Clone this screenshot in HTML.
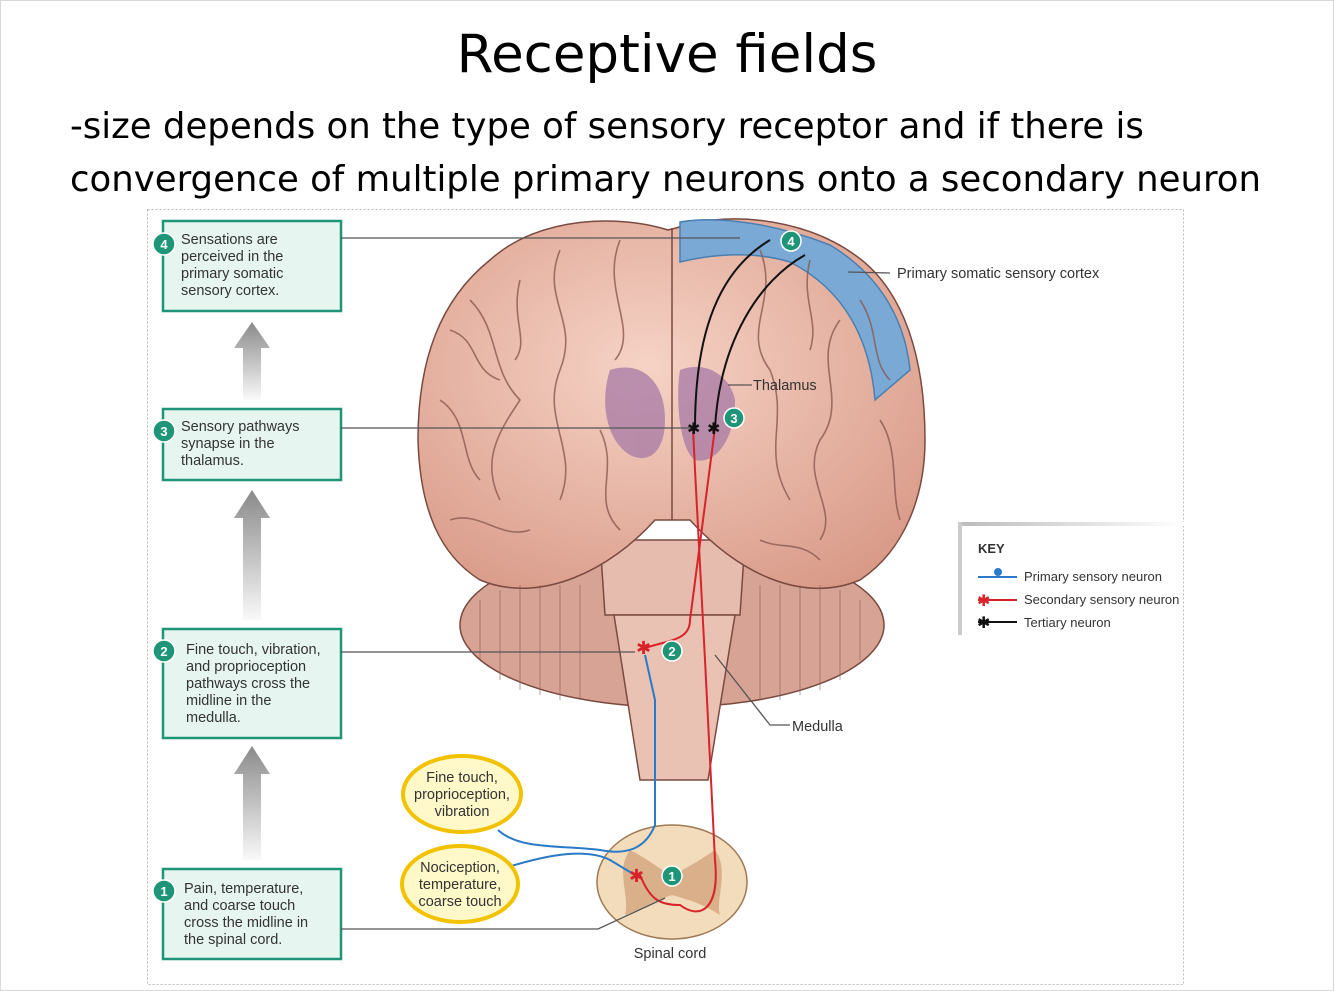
<!DOCTYPE html>
<html><head><meta charset="utf-8"><style>
html,body{margin:0;padding:0;background:#fff;}
body{width:1334px;height:991px;position:relative;overflow:hidden;font-family:"Liberation Sans",sans-serif;}
.t{position:absolute;font-family:"DejaVu Sans","Liberation Sans",sans-serif;color:#000;}
</style></head><body>
<div style="position:absolute;left:0;top:0;width:1332px;height:989px;border:1px solid #d8d8d8;"></div>
<div class="t" style="left:0;width:1334px;text-align:center;top:24px;font-size:53px;">Receptive fields</div>
<div class="t" style="left:70px;top:100px;font-size:35.5px;line-height:53px;white-space:nowrap;">-size depends on the type of sensory receptor and if there is<br>convergence of multiple primary neurons onto a secondary neuron</div>
<svg width="1334" height="991" style="position:absolute;left:0;top:0" xmlns="http://www.w3.org/2000/svg" font-family="Liberation Sans, sans-serif">
<defs>
<linearGradient id="ga" x1="0" y1="0" x2="0" y2="1"><stop offset="0" stop-color="#8a8a8a"/><stop offset="1" stop-color="#8a8a8a" stop-opacity="0.05"/></linearGradient>
<radialGradient id="br" cx="0.45" cy="0.4" r="0.7"><stop offset="0" stop-color="#f6d3c6"/><stop offset="1" stop-color="#d99a88"/></radialGradient>
<linearGradient id="kg" x1="0" y1="0" x2="1" y2="0"><stop offset="0" stop-color="#bbb"/><stop offset="1" stop-color="#fff"/></linearGradient>
</defs>
<rect x="147.5" y="209.5" width="1036" height="775" fill="none" stroke="#bbb" stroke-dasharray="2,2"/>
<g fill="#e7f5f1" stroke="#1f9577" stroke-width="2.5">
<rect x="163" y="221" width="178" height="90"/>
<rect x="163" y="409" width="178" height="71"/>
<rect x="163" y="629" width="178" height="109"/>
<rect x="163" y="869" width="178" height="90"/>
</g>
<g fill="url(#ga)">
<path d="M243 400 V348 H234 L252 322 L270 348 H261 V400Z"/>
<path d="M243 620 V518 H234 L252 490 L270 518 H261 V620Z"/>
<path d="M243 860 V774 H234 L252 746 L270 774 H261 V860Z"/>
</g>
<g fill="#333" font-size="14.5">
<text x="181" y="244">Sensations are</text><text x="181" y="261">perceived in the</text><text x="181" y="278">primary somatic</text><text x="181" y="295">sensory cortex.</text>
<text x="181" y="431">Sensory pathways</text><text x="181" y="448">synapse in the</text><text x="181" y="465">thalamus.</text>
<text x="186" y="654">Fine touch, vibration,</text><text x="186" y="671">and proprioception</text><text x="186" y="688">pathways cross the</text><text x="186" y="705">midline in the</text><text x="186" y="722">medulla.</text>
<text x="184" y="893">Pain, temperature,</text><text x="184" y="910">and coarse touch</text><text x="184" y="927">cross the midline in</text><text x="184" y="944">the spinal cord.</text>
</g>
<g stroke="#7a4a40" stroke-width="1.5">
<ellipse cx="672" cy="625" rx="212" ry="82" fill="#d7a394"/>
<path d="M600 540 H745 L740 615 H605Z" fill="#e6bcae"/>
<path d="M614 615 H735 L708 780 H640Z" fill="#e9c2b4"/>
<path d="M668 230 C620 215 540 215 490 260 C440 300 418 360 418 440 C420 510 440 555 480 580 C540 605 610 570 655 520 L690 520 C735 570 800 605 860 580 C905 550 925 495 925 440 C925 360 905 290 855 255 C800 215 720 212 676 228Z" fill="url(#br)"/>
<path d="M680 222 C720 215 780 225 830 245 C880 275 905 320 910 370 L875 400 C870 340 845 290 790 262 C750 250 710 255 680 262Z" fill="#79a9d4" stroke="#4a7fb0"/>
<line x1="672" y1="228" x2="672" y2="520"/>
</g>
<g stroke="#8b5a50" stroke-width="1.6" fill="none" opacity="0.8">
<path d="M470 300 C500 330 490 370 520 400 C500 430 480 460 500 500"/><path d="M560 250 C540 300 580 320 560 370 C540 420 580 450 560 500"/>
<path d="M620 240 C600 290 640 330 615 360"/><path d="M440 400 C470 420 460 460 480 480"/>
<path d="M760 250 C780 300 740 330 770 370 C790 420 760 450 790 500"/><path d="M840 320 C810 360 850 400 820 440 C800 480 840 510 820 540"/>
<path d="M880 420 C900 450 890 490 900 520"/><path d="M600 430 C620 470 590 500 620 530"/>
<path d="M450 330 C480 340 470 370 500 380"/><path d="M520 280 C510 320 530 340 515 360"/><path d="M450 520 C480 510 500 540 530 530"/>
<path d="M860 300 C880 330 870 360 890 380"/><path d="M810 260 C800 300 820 320 810 350"/><path d="M820 560 C800 540 780 550 760 540"/>
</g>
<g stroke="#8b5a50" stroke-width="1" opacity="0.6">
<path d="M480 600 V660 M500 590 V680 M520 585 V690 M540 585 V695 M560 585 V700 M580 585 V700 M760 585 V700 M780 585 V700 M800 585 V695 M820 585 V690 M840 590 V680 M860 600 V660"/>
</g>
<g fill="#a779a6" opacity="0.75">
<path d="M610 370 C640 360 665 380 665 420 C665 450 650 465 630 455 C605 440 600 400 610 370Z"/>
<path d="M680 370 C705 360 730 375 735 400 C735 440 715 465 695 460 C680 450 675 400 680 370Z"/>
</g>
<ellipse cx="672" cy="882" rx="75" ry="57" fill="#f3dcbc" stroke="#a07a55" stroke-width="1.5"/>
<path d="M630 850 C650 860 660 870 672 875 C684 870 700 860 715 850 C730 870 715 900 720 915 C705 905 690 900 672 895 C655 900 640 910 625 915 C630 895 615 870 630 850Z" fill="#d9b08a"/>
<g fill="none" stroke-width="2">
<path d="M498 830 C520 850 560 845 600 850 C625 855 645 850 655 825 V700 L645 655" stroke="#2a7bc7"/>
<path d="M498 870 C530 860 580 845 610 860 L635 875" stroke="#2a7bc7"/>
<path d="M640 875 C650 900 660 905 680 905 C700 920 720 910 715 860 L705 660 L695 470 L693 428" stroke="#d8232a"/>
<path d="M645 648 C670 640 690 640 690 620 L715 428" stroke="#d8232a"/>
<path d="M695 428 C695 330 720 270 770 240" stroke="#111"/>
<path d="M715 428 C720 340 760 280 805 255" stroke="#111"/>
</g>
<g font-size="18" fill="#d8232a"><text x="636" y="654">✱</text><text x="629" y="882">✱</text></g>
<g font-size="16" fill="#111"><text x="687" y="434">✱</text><text x="707" y="434">✱</text></g>
<g stroke="#555" stroke-width="1.3" fill="none">
<path d="M341 238 H740"/><path d="M341 428 H690"/><path d="M341 652 H635"/><path d="M341 929 H598 L665 898"/>
<path d="M848 272 L890 273"/><path d="M728 385 H752"/><path d="M715 655 L770 725 H790"/>
</g>
<g fill="#1f9577" stroke="#fff" stroke-width="1.5">
<circle cx="164" cy="244" r="11"/><circle cx="164" cy="431" r="11"/><circle cx="164" cy="651" r="11"/><circle cx="164" cy="891" r="11"/>
<circle cx="791" cy="241" r="10"/><circle cx="734" cy="418" r="10"/><circle cx="672" cy="651" r="10"/><circle cx="672" cy="876" r="10"/>
</g>
<g fill="#fff" font-size="13" font-weight="bold" text-anchor="middle">
<text x="164" y="249">4</text><text x="164" y="436">3</text><text x="164" y="656">2</text><text x="164" y="896">1</text>
<text x="791" y="246">4</text><text x="734" y="423">3</text><text x="672" y="656">2</text><text x="672" y="881">1</text>
</g>
<g fill="#fff8c8" stroke="#f2c200" stroke-width="4">
<ellipse cx="462" cy="794" rx="59" ry="38"/><ellipse cx="460" cy="884" rx="58" ry="38"/>
</g>
<g font-size="14.5" fill="#333" text-anchor="middle">
<text x="462" y="782">Fine touch,</text><text x="462" y="799">proprioception,</text><text x="462" y="816">vibration</text>
<text x="460" y="872">Nociception,</text><text x="460" y="889">temperature,</text><text x="460" y="906">coarse touch</text>
<text x="670" y="958">Spinal cord</text>
</g>
<g font-size="14.5" fill="#333">
<text x="897" y="278">Primary somatic sensory cortex</text>
<text x="753" y="390">Thalamus</text>
<text x="792" y="731">Medulla</text>
</g>
<rect x="958" y="522" width="226" height="4" fill="url(#kg)"/>
<rect x="958" y="522" width="4" height="113" fill="#ccc"/>
<text x="978" y="553" font-size="13" font-weight="bold" fill="#333">KEY</text>
<g stroke-width="2"><line x1="978" y1="577" x2="1017" y2="577" stroke="#2a7bc7"/><line x1="978" y1="600" x2="1017" y2="600" stroke="#d8232a"/><line x1="978" y1="622" x2="1017" y2="622" stroke="#111"/></g>
<circle cx="998" cy="572" r="4" fill="#2a7bc7"/>
<text x="977" y="606" font-size="16" fill="#d8232a">✱</text><text x="977" y="628" font-size="16" fill="#111">✱</text>
<g font-size="13" fill="#333"><text x="1024" y="581">Primary sensory neuron</text><text x="1024" y="604">Secondary sensory neuron</text><text x="1024" y="627">Tertiary neuron</text></g>
</svg>
</body></html>
